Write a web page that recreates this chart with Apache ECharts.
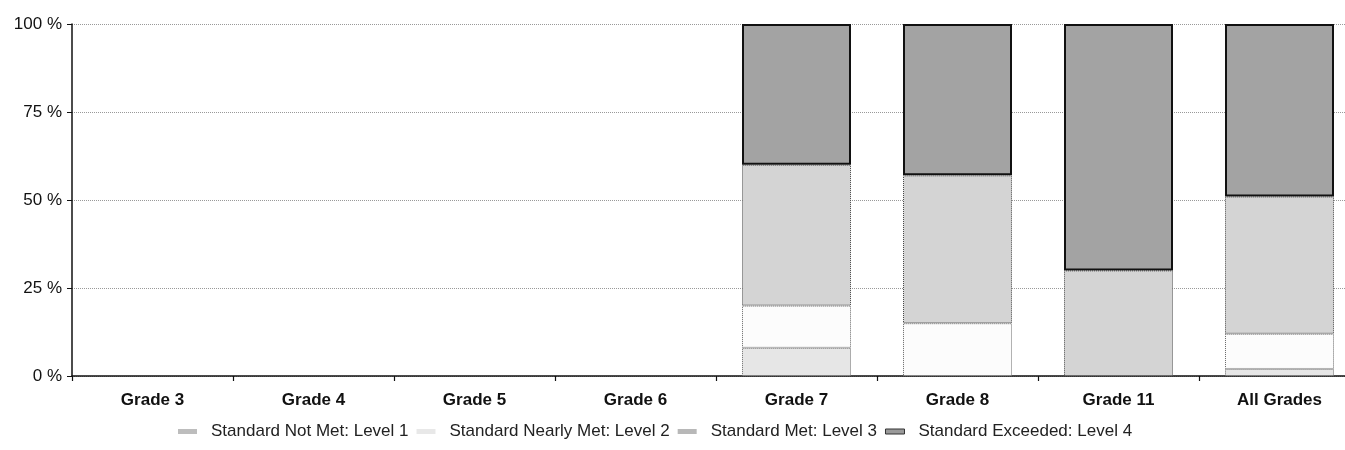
<!DOCTYPE html>
<html><head><meta charset="utf-8">
<script src="https://cdn.jsdelivr.net/npm/echarts@6/dist/echarts.min.js"></script>
<style>html,body{margin:0;padding:0;background:#fff}#c{width:1345px;height:450px}</style>
</head><body><div id="c"></div>
<script>
const categories = ["Grade 3","Grade 4","Grade 5","Grade 6","Grade 7","Grade 8","Grade 11","All Grades"];
const level1 = [null,null,null,null,8,null,null,2];
const level2 = [null,null,null,null,12,15,null,10];
const level3 = [null,null,null,null,40,42,30,39];
const level4 = [null,null,null,null,40,43,70,49];
const seriesNames = ["Standard Not Met: Level 1","Standard Nearly Met: Level 2","Standard Met: Level 3","Standard Exceeded: Level 4"];
const yTicks = [0,25,50,75,100];

const font = "'Liberation Sans', Arial, sans-serif";
const fills = ["#e6e6e6","#fcfcfc","#d4d4d4","#a3a3a3"];
const borders = [
  {borderColor:"#666", borderWidth:1, borderType:"dotted"},
  {borderColor:"#666", borderWidth:1, borderType:"dotted"},
  {borderColor:"#444", borderWidth:1, borderType:"dotted"},
  {borderColor:"#111", borderWidth:2, borderType:"solid"}
];
const legendIconFills = ["#bdbdbd","#e8e8e8","#b8b8b8","#9a9a9a"];
const dataSets = [level1, level2, level3, level4];

const chart = echarts.init(document.getElementById('c'), null, {renderer:'canvas'});
chart.setOption({
  animation:false,
  backgroundColor:'#fff',
  grid:{left:72, width:1288, top:24, bottom:74, containLabel:false, outerBoundsMode:'none'},
  legend:{
    data:seriesNames.map((n,i)=>({name:n, icon:'rect',
      itemStyle:{color:legendIconFills[i], borderWidth: i===3?1:0, borderColor:'#333', borderType:'solid'}})),
    left:173, top:418, itemWidth:19, itemHeight:5, itemGap:8,
    textStyle:{fontFamily:font, fontSize:17, color:'#222', padding:[0,0,0,9]}
  },
  xAxis:{
    type:'category', data:categories,
    axisLine:{lineStyle:{color:'#111', width:1.5}},
    axisTick:{show:true, alignWithLabel:false, length:5, lineStyle:{color:'#111', width:1.2}},
    axisLabel:{fontFamily:font, fontSize:17, fontWeight:'bold', color:'#111', margin:16}
  },
  yAxis:{
    type:'value', min:yTicks[0], max:yTicks[yTicks.length-1], interval:25,
    axisLine:{show:true, lineStyle:{color:'#111', width:1.5}},
    axisTick:{show:true, length:5, lineStyle:{color:'#111'}},
    axisLabel:{fontFamily:font, fontSize:17, color:'#111', margin:10, formatter:'{value} %'},
    splitLine:{show:true, lineStyle:{color:'#999', type:'dotted', width:1}}
  },
  series: dataSets.map((d,i)=>({
    name:seriesNames[i], type:'bar', stack:'total', data:d, barWidth:109,
    itemStyle:Object.assign({color:fills[i]}, borders[i])
  }))
});
</script></body></html>
